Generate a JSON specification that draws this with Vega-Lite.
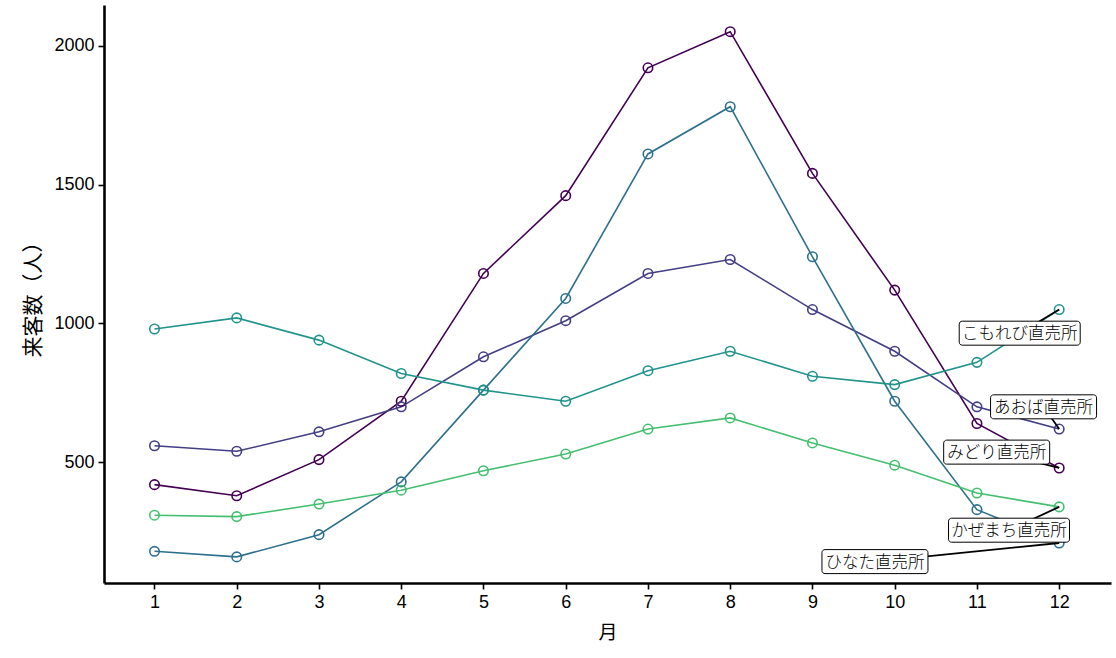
{
  "$schema": "https://vega.github.io/schema/vega-lite/v6.json",
  "autosize": "none",
  "width": 1007,
  "height": 578,
  "padding": {"left": 104, "top": 5, "right": 5, "bottom": 75},
  "background": "white",
  "config": {
    "view": {"stroke": null},
    "axis": {
      "grid": false,
      "domainColor": "black",
      "domainWidth": 2.6,
      "tickColor": "black",
      "tickWidth": 1.6,
      "tickSize": 6,
      "labelColor": "black",
      "labelFont": "Liberation Sans",
      "labelFontSize": 18,
      "labelPadding": 4,
      "titleColor": "black",
      "titleFont": "Noto Sans CJK JP",
      "titleFontWeight": "normal"
    }
  },
  "datasets": {
    "visits": [
      {"store": "みどり直売所", "month": 1, "visitors": 420},
      {"store": "みどり直売所", "month": 2, "visitors": 380},
      {"store": "みどり直売所", "month": 3, "visitors": 510},
      {"store": "みどり直売所", "month": 4, "visitors": 720},
      {"store": "みどり直売所", "month": 5, "visitors": 1180},
      {"store": "みどり直売所", "month": 6, "visitors": 1460},
      {"store": "みどり直売所", "month": 7, "visitors": 1920},
      {"store": "みどり直売所", "month": 8, "visitors": 2050},
      {"store": "みどり直売所", "month": 9, "visitors": 1540},
      {"store": "みどり直売所", "month": 10, "visitors": 1120},
      {"store": "みどり直売所", "month": 11, "visitors": 640},
      {"store": "みどり直売所", "month": 12, "visitors": 480},
      {"store": "あおば直売所", "month": 1, "visitors": 560},
      {"store": "あおば直売所", "month": 2, "visitors": 540},
      {"store": "あおば直売所", "month": 3, "visitors": 610},
      {"store": "あおば直売所", "month": 4, "visitors": 700},
      {"store": "あおば直売所", "month": 5, "visitors": 880},
      {"store": "あおば直売所", "month": 6, "visitors": 1010},
      {"store": "あおば直売所", "month": 7, "visitors": 1180},
      {"store": "あおば直売所", "month": 8, "visitors": 1230},
      {"store": "あおば直売所", "month": 9, "visitors": 1050},
      {"store": "あおば直売所", "month": 10, "visitors": 900},
      {"store": "あおば直売所", "month": 11, "visitors": 700},
      {"store": "あおば直売所", "month": 12, "visitors": 620},
      {"store": "ひなた直売所", "month": 1, "visitors": 180},
      {"store": "ひなた直売所", "month": 2, "visitors": 160},
      {"store": "ひなた直売所", "month": 3, "visitors": 240},
      {"store": "ひなた直売所", "month": 4, "visitors": 430},
      {"store": "ひなた直売所", "month": 5, "visitors": 760},
      {"store": "ひなた直売所", "month": 6, "visitors": 1090},
      {"store": "ひなた直売所", "month": 7, "visitors": 1610},
      {"store": "ひなた直売所", "month": 8, "visitors": 1780},
      {"store": "ひなた直売所", "month": 9, "visitors": 1240},
      {"store": "ひなた直売所", "month": 10, "visitors": 720},
      {"store": "ひなた直売所", "month": 11, "visitors": 330},
      {"store": "ひなた直売所", "month": 12, "visitors": 210},
      {"store": "こもれび直売所", "month": 1, "visitors": 980},
      {"store": "こもれび直売所", "month": 2, "visitors": 1020},
      {"store": "こもれび直売所", "month": 3, "visitors": 940},
      {"store": "こもれび直売所", "month": 4, "visitors": 820},
      {"store": "こもれび直売所", "month": 5, "visitors": 760},
      {"store": "こもれび直売所", "month": 6, "visitors": 720},
      {"store": "こもれび直売所", "month": 7, "visitors": 830},
      {"store": "こもれび直売所", "month": 8, "visitors": 900},
      {"store": "こもれび直売所", "month": 9, "visitors": 810},
      {"store": "こもれび直売所", "month": 10, "visitors": 780},
      {"store": "こもれび直売所", "month": 11, "visitors": 860},
      {"store": "こもれび直売所", "month": 12, "visitors": 1050},
      {"store": "かぜまち直売所", "month": 1, "visitors": 310},
      {"store": "かぜまち直売所", "month": 2, "visitors": 305},
      {"store": "かぜまち直売所", "month": 3, "visitors": 350},
      {"store": "かぜまち直売所", "month": 4, "visitors": 400},
      {"store": "かぜまち直売所", "month": 5, "visitors": 470},
      {"store": "かぜまち直売所", "month": 6, "visitors": 530},
      {"store": "かぜまち直売所", "month": 7, "visitors": 620},
      {"store": "かぜまち直売所", "month": 8, "visitors": 660},
      {"store": "かぜまち直売所", "month": 9, "visitors": 570},
      {"store": "かぜまち直売所", "month": 10, "visitors": 490},
      {"store": "かぜまち直売所", "month": 11, "visitors": 390},
      {"store": "かぜまち直売所", "month": 12, "visitors": 340}
    ],
    "labels": [
      {"store": "こもれび直売所", "lx": 11.52, "ly": 965},
      {"store": "あおば直売所", "lx": 11.81, "ly": 700},
      {"store": "みどり直売所", "lx": 11.24, "ly": 537},
      {"store": "かぜまち直売所", "lx": 11.39, "ly": 256},
      {"store": "ひなた直売所", "lx": 9.76, "ly": 143}
    ]
  },
  "data": {"name": "visits"},
  "encoding": {
    "x": {
      "field": "month",
      "type": "quantitative",
      "scale": {"domain": [0.386, 12.63], "nice": false, "zero": false},
      "axis": {"values": [1, 2, 3, 4, 5, 6, 7, 8, 9, 10, 11, 12], "title": "月", "titleFontSize": 19, "titlePadding": 12}
    },
    "y": {
      "field": "visitors",
      "type": "quantitative",
      "scale": {"domain": [66, 2146], "nice": false, "zero": false},
      "axis": {"values": [500, 1000, 1500, 2000], "format": "d", "title": "来客数（人）", "titleFontSize": 21, "titlePadding": 10}
    }
  },
  "layer": [
    {
      "mark": {"type": "line", "strokeWidth": 1.6},
      "encoding": {
        "color": {
          "field": "store",
          "type": "nominal",
          "legend": null,
          "scale": {
            "domain": ["みどり直売所", "あおば直売所", "ひなた直売所", "こもれび直売所", "かぜまち直売所"],
            "range": ["#440154", "#433E85", "#2D708E", "#20938C", "#44BF70"]
          }
        }
      }
    },
    {
      "mark": {"type": "point", "filled": false, "size": 90, "strokeWidth": 1.6, "opacity": 1},
      "encoding": {"color": {"field": "store", "type": "nominal", "legend": null}}
    },
    {
      "transform": [
        {"filter": "datum.month == 12"},
        {"lookup": "store", "from": {"data": {"name": "labels"}, "key": "store", "fields": ["lx", "ly"]}}
      ],
      "mark": {"type": "rule", "color": "black", "strokeWidth": 1.8},
      "encoding": {
        "x": {"field": "lx", "type": "quantitative"},
        "y": {"field": "ly", "type": "quantitative"},
        "x2": {"field": "month"},
        "y2": {"field": "visitors"}
      }
    },
    {
      "data": {"name": "labels"},
      "transform": [{"filter": "length(datum.store) == 7"}],
      "mark": {"type": "rect", "width": 121, "height": 24, "fill": "white", "stroke": "black", "strokeWidth": 1, "cornerRadius": 3},
      "encoding": {
        "x": {"field": "lx", "type": "quantitative"},
        "y": {"field": "ly", "type": "quantitative"}
      }
    },
    {
      "data": {"name": "labels"},
      "transform": [{"filter": "length(datum.store) == 6"}],
      "mark": {"type": "rect", "width": 106, "height": 24, "fill": "white", "stroke": "black", "strokeWidth": 1, "cornerRadius": 3},
      "encoding": {
        "x": {"field": "lx", "type": "quantitative"},
        "y": {"field": "ly", "type": "quantitative"}
      }
    },
    {
      "data": {"name": "labels"},
      "mark": {"type": "text", "font": "Noto Sans CJK JP", "fontSize": 16.5, "fontWeight": 300, "color": "black", "align": "center", "baseline": "middle", "dy": 1},
      "encoding": {
        "x": {"field": "lx", "type": "quantitative"},
        "y": {"field": "ly", "type": "quantitative"},
        "text": {"field": "store"}
      }
    }
  ]
}
